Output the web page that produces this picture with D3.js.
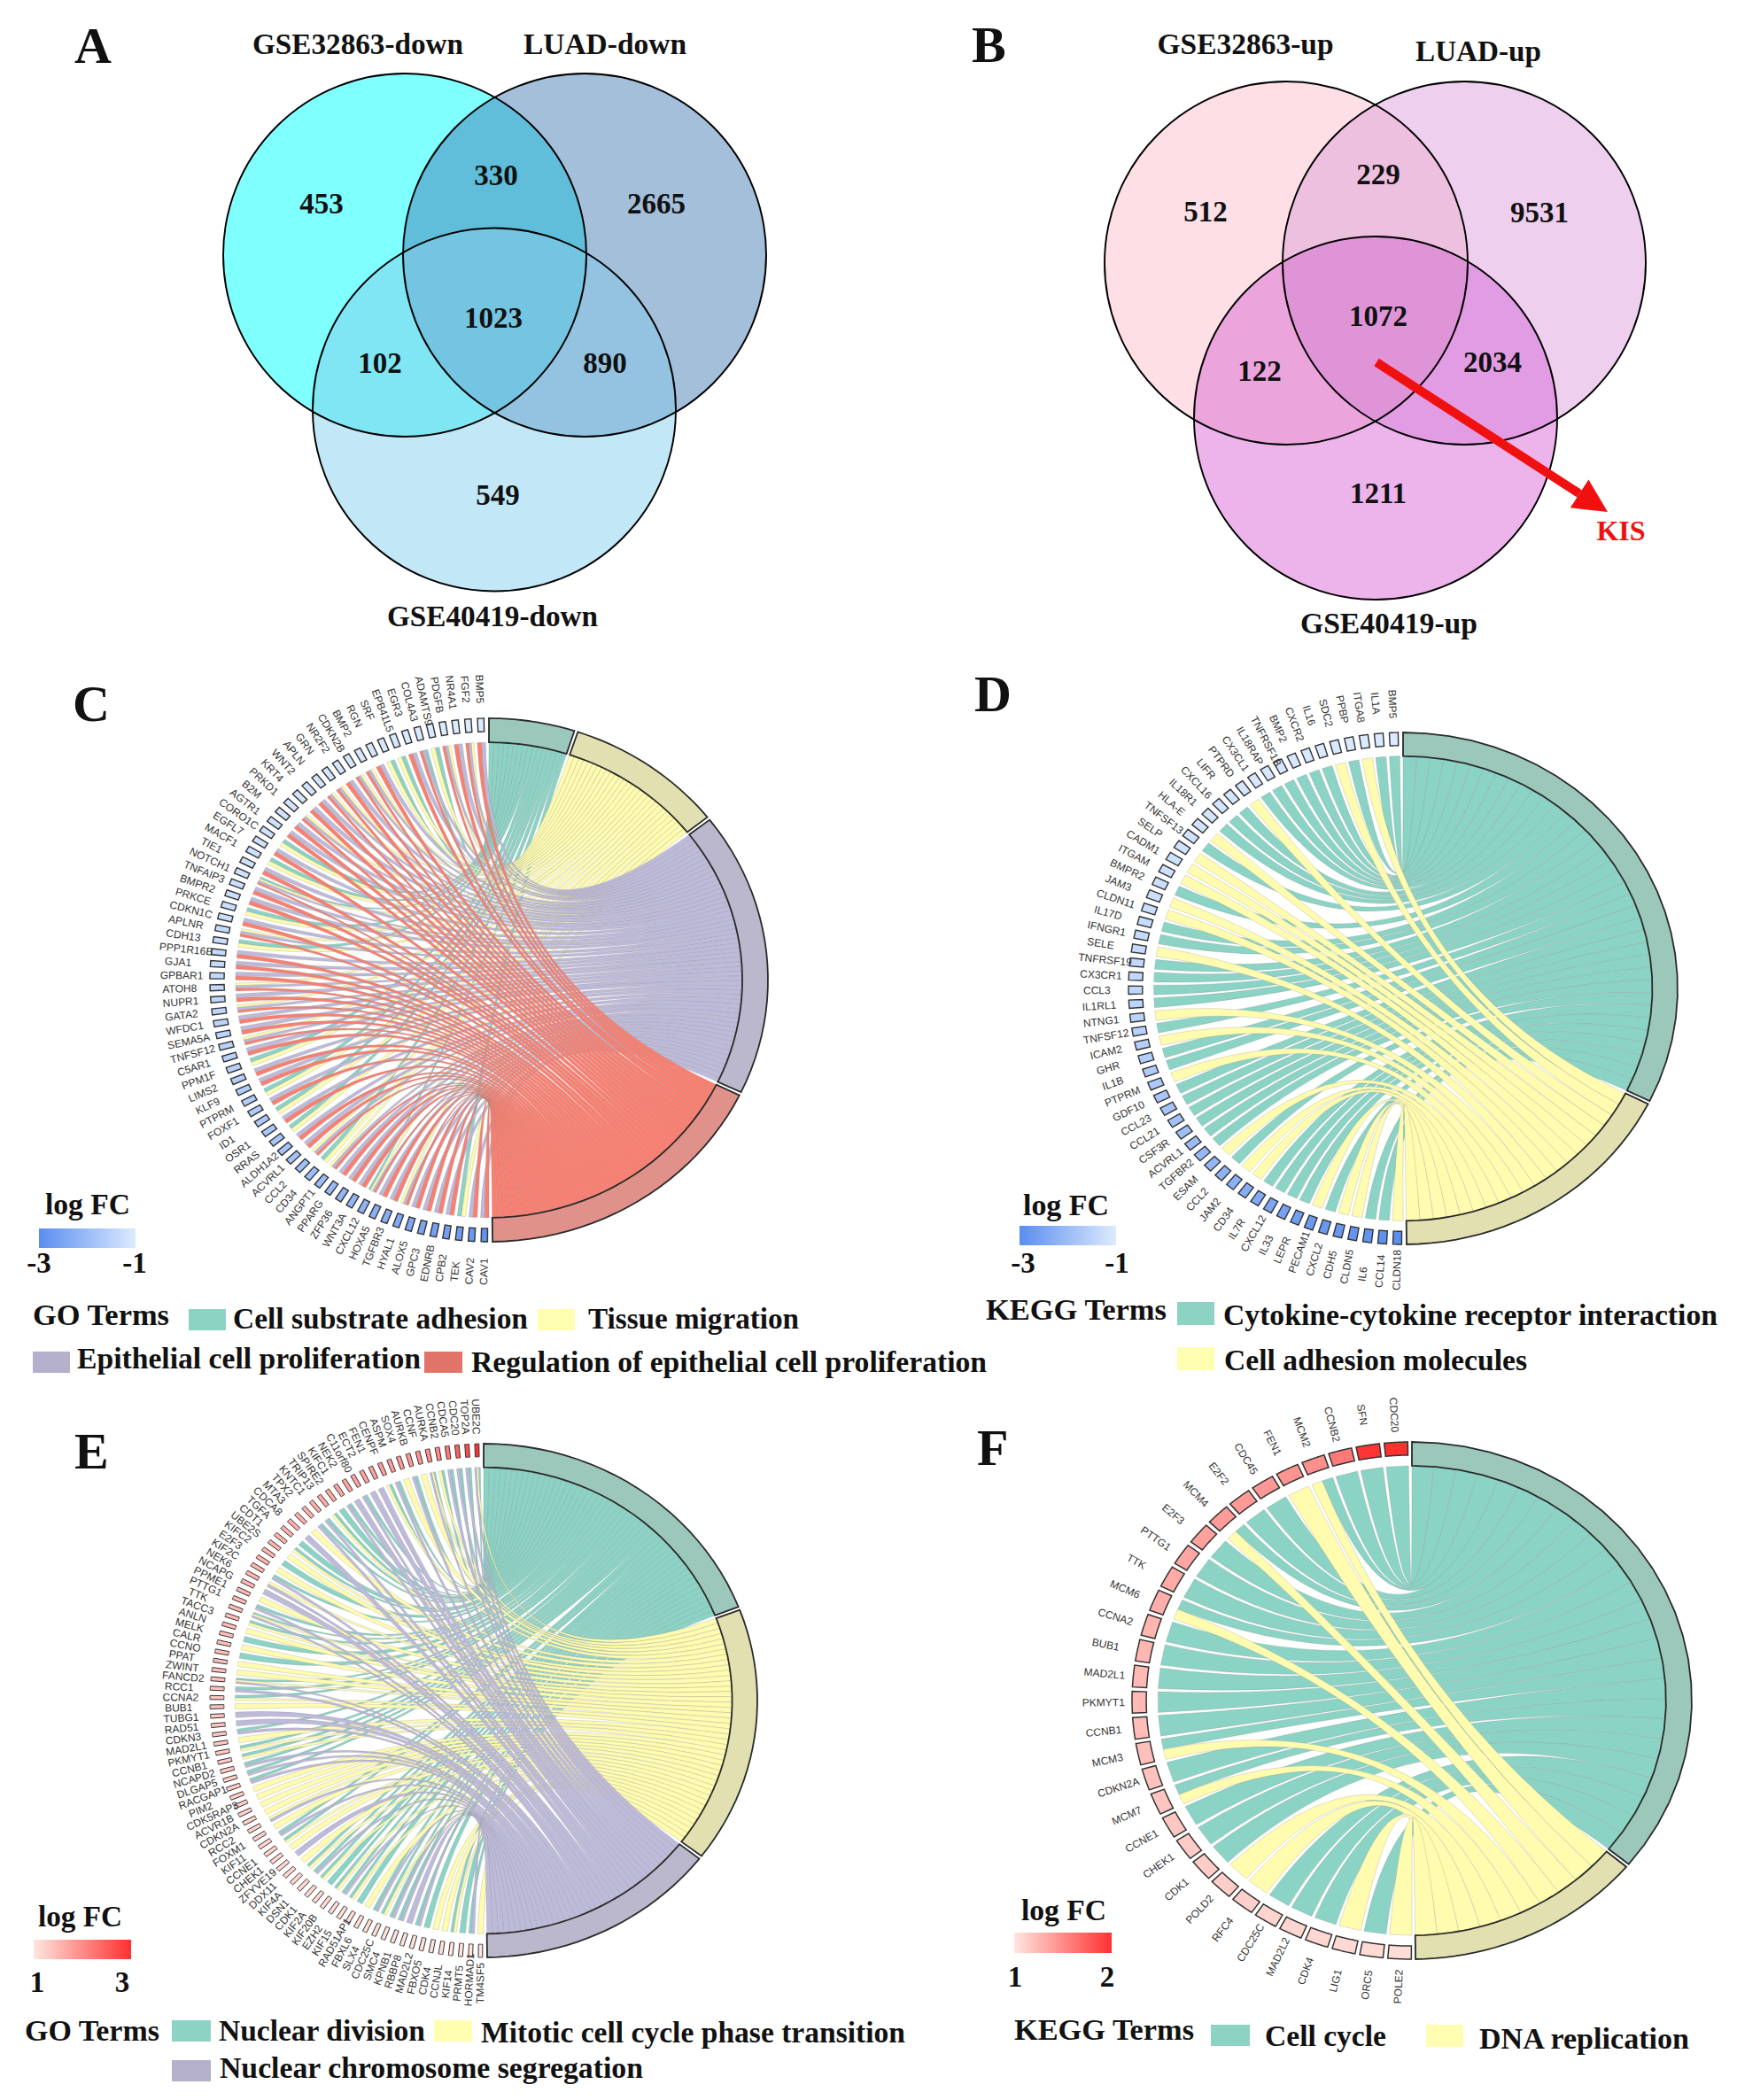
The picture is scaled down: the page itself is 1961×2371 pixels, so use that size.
<!DOCTYPE html>
<html><head><meta charset="utf-8">
<script src="https://cdn.jsdelivr.net/npm/d3@7/dist/d3.min.js"></script>
<style>html,body{margin:0;padding:0;background:#fff}svg{display:block}</style>
</head><body><svg id="fig" width="1961" height="2371" viewBox="0 0 1961 2371"></svg>
<script>
// ---------- Venn data ----------
const vennANames = ["GSE32863-down","LUAD-down","GSE40419-down"];
const vennACounts = {a:453,ab:330,b:2665,abc:1023,ac:102,bc:890,c:549};
const vennBNames = ["GSE32863-up","LUAD-up","GSE40419-up"];
const vennBCounts = {a:512,ab:229,b:9531,abc:1072,ac:122,bc:2034,c:1211};

// ---------- Panel C ----------
const cGenes = ["BMP5","FGF2","NR4A1","PDGFB","ADAMTS9","COL4A3","EGR3","EPB41L5","SRF","RGN","BMP2","CDKN2B","NR2F2","GRN","APLN","WNT2","KRT4","PRKD1","B2M","AGTR1","CORO1C","EGFL7","MACF1","TIE1","NOTCH1","TNFAIP3","BMPR2","PRKCE","CDKN1C","APLNR","CDH13","PPP1R16B","GJA1","GPBAR1","ATOH8","NUPR1","GATA2","WFDC1","SEMA5A","TNFSF12","C5AR1","PPM1F","LIMS2","KLF9","PTPRM","FOXF1","ID1","OSR1","RRAS","ALDH1A2","ACVRL1","CCL2","CD34","ANGPT1","PPARG","ZFP36","WNT3A","CXCL12","HOXA5","TGFBR3","HYAL1","ALOX5","GPC3","EDNRB","CPB2","TEK","CAV2","CAV1"];
const cLinks = ["34","234","34","234","12","134","34","12","12","34","234","234","34","234","234","34","34","234","34","34","12","34","12","34","1234","34","34","12","34","234","12","34","34","34","234","34","234","34","34","234","34","12","34","34","12","34","12","34","12","34","34","234","12","234","34","34","34","1234","34","34","234","34","34","34","34","12","34","34"];
const cLogFC = [-1.00,-1.01,-1.02,-1.03,-1.04,-1.05,-1.05,-1.06,-1.07,-1.08,-1.09,-1.10,-1.11,-1.12,-1.13,-1.14,-1.15,-1.16,-1.17,-1.18,-1.19,-1.20,-1.21,-1.22,-1.24,-1.25,-1.27,-1.28,-1.30,-1.32,-1.33,-1.35,-1.37,-1.39,-1.41,-1.43,-1.45,-1.47,-1.50,-1.52,-1.55,-1.58,-1.60,-1.63,-1.66,-1.69,-1.72,-1.75,-1.79,-1.83,-1.87,-1.91,-1.95,-2.00,-2.05,-2.10,-2.15,-2.20,-2.26,-2.32,-2.38,-2.44,-2.50,-2.56,-2.62,-2.70,-2.78,-2.90];

// ---------- Panel D ----------
const dGenes = ["BMP5","IL1A","ITGA8","PPBP","SDC2","IL16","CXCR2","BMP2","TNFRSF1B","IL18RAP","CX3CL1","PTPRD","LIFR","CXCL16","IL18R1","HLA-E","TNFSF13","SELP","CADM1","ITGAM","BMPR2","JAM3","CLDN11","IL17D","IFNGR1","SELE","TNFRSF19","CX3CR1","CCL3","IL1RL1","NTNG1","TNFSF12","ICAM2","GHR","IL1B","PTPRM","GDF10","CCL23","CCL21","CSF3R","ACVRL1","TGFBR2","ESAM","CCL2","JAM2","CD34","IL7R","CXCL12","IL33","LEPR","PECAM1","CXCL2","CDH5","CLDN5","IL6","CCL14","CLDN18"];
const dLinks = ["1","1","2","1","2","1","1","1","1","1","1","2","1","1","1","2","1","2","2","2","1","2","2","1","1","2","1","1","1","1","2","1","2","1","1","2","1","1","1","1","1","1","2","1","2","2","1","1","1","1","2","1","2","2","1","1","2"];
const dLogFC = [-1.00,-1.01,-1.02,-1.03,-1.04,-1.05,-1.06,-1.07,-1.08,-1.09,-1.10,-1.11,-1.12,-1.14,-1.15,-1.16,-1.18,-1.19,-1.21,-1.23,-1.25,-1.27,-1.29,-1.31,-1.34,-1.36,-1.39,-1.42,-1.45,-1.48,-1.52,-1.56,-1.60,-1.64,-1.68,-1.73,-1.78,-1.83,-1.88,-1.94,-2.00,-2.06,-2.12,-2.19,-2.26,-2.33,-2.40,-2.48,-2.57,-2.66,-2.72,-2.76,-2.80,-2.84,-2.88,-2.92,-2.96];

// ---------- Panel E ----------
const eGenes = ["UBE2C","TOP2A","CDC20","CDCA5","CCNB2","AURKA","CCNF","AURKB","SOX4","ASPM","CENPF","FEN1","ECT2","C11orf80","NEK2","KIFC1","SPIRE2","TRIP13","KNTC1","TPX2","MTA3","CDCA8","TGFA","CDT1","UBE2S","KIFC2","E2F3","KIF2C","NEK6","NCAPG","PPME1","PTTG1","TTK","TACC3","ANLN","MELK","CALR","CCNO","PPAT","ZWINT","FANCD2","RCC1","CCNA2","BUB1","TUBG1","RAD51","CDKN3","MAD2L1","PKMYT1","CCNB1","NCAPD2","DLGAP5","RACGAP1","PIM2","CDK5RAP3","ACVR1B","CDKN2A","RCC2","FOXM1","KIF11","CCNE1","CHEK1","ZFYVE19","DDX11","KIF4A","DSN1","CDK1","KIF2A","KIF20B","EZH2","KIF15","RAD51AP1","FBXL6","SLX4","CDC25C","SMC4","KPNB1","RBBP8","MAD2L2","FBXO5","CDK4","CCNJL","KIF14","PRMT5","HORMAD1","TM4SF5"];
const eLinks = ["123","13","13","13","12","123","2","13","2","13",
  "12","3","3","13","3","13","1","12","13","13",
  "2","3","1","12","2","1","2","13","23","3",
  "2","13","123","12","2","1","2","1","2","2",
  "123","13","12","2","3","3","13","2","12","12",
  "13","13","13","2","2","2","2","23","2","13",
  "12","2","3","2","12","13","12","1","12","13",
  "12","1","2","13","12","13","13","3","13","1",
  "2","2","12","1","13","2"];
const eLogFC = [3.00,2.72,2.48,2.18,2.02,1.95,1.90,1.86,1.83,1.80,1.78,1.76,1.74,1.72,1.70,1.69,1.67,1.66,1.64,1.63,1.62,1.60,1.59,1.58,1.57,1.55,1.54,1.53,1.52,1.51,1.50,1.49,1.48,1.47,1.46,1.45,1.44,1.43,1.42,1.41,1.40,1.39,1.38,1.37,1.36,1.35,1.34,1.33,1.32,1.31,1.30,1.29,1.28,1.27,1.26,1.25,1.24,1.23,1.22,1.21,1.20,1.19,1.19,1.18,1.17,1.16,1.15,1.15,1.14,1.13,1.12,1.11,1.11,1.10,1.09,1.08,1.08,1.07,1.06,1.05,1.05,1.04,1.03,1.03,1.02,1.01];

// ---------- Panel F ----------
const fGenes = ["CDC20","SFN","CCNB2","MCM2","FEN1","CDC45","E2F2","MCM4","E2F3","PTTG1","TTK","MCM6","CCNA2","BUB1","MAD2L1","PKMYT1","CCNB1","MCM3","CDKN2A","MCM7","CCNE1","CHEK1","CDK1","POLD2","RFC4","CDC25C","MAD2L2","CDK4","LIG1","ORC5","POLE2"];
const fLinks = ["1","1","1","12","2","1","1","12","1","1","1","12","1","1","1","1","1","12","1","12","1","1","1","2","2","1","1","1","2","1","2"];
const fLogFC = [2.00,1.98,1.60,1.48,1.45,1.43,1.42,1.41,1.38,1.35,1.33,1.30,1.27,1.26,1.25,1.24,1.23,1.21,1.20,1.18,1.17,1.15,1.14,1.13,1.12,1.10,1.09,1.08,1.07,1.06,1.05];

// ---------- Style ----------
const ribbonFill = {1:"#8BD3C5",2:"#FFFCB0",3:"#BEBADA",4:"#FA7F70"};
const bandFill = {1:"#9CC8BC",2:"#E2E0B0",3:"#BBB7CC",4:"#E0918A"};
const swatchFill = {1:"#8CD3C4",2:"#FFFDB0",3:"#B4AFCB",4:"#E07468"};
const SERIF = "'Liberation Serif','Times New Roman',serif";
const SANS = "'Liberation Sans',Arial,sans-serif";
const GAP = 0.013, R_RIB = 0.908, R_BOX = 0.949, R_LAB = 1.14;

const svg = d3.select("#fig");
const defs = svg.append("defs");
svg.append("rect").attr("width",1961).attr("height",2371).attr("fill","#fff");

function T(parent, s, x, y, size, width, anchor, color){
  const t = parent.append("text").attr("x",x).attr("y",y).text(s)
    .attr("font-family",SERIF).attr("font-weight","bold").attr("font-size",size)
    .attr("text-anchor",anchor||"start").attr("fill",color||"#111");
  if(width) t.attr("textLength",width).attr("lengthAdjust","spacingAndGlyphs");
  return t;
}

// ---------- Venn ----------
function venn(id, circles, colors, labels, counts){
  const g = svg.append("g");
  const keys = ["a","b","c"];
  keys.forEach((k,i)=>{
    defs.append("clipPath").attr("id",id+k).append("circle")
      .attr("cx",circles[i][0]).attr("cy",circles[i][1]).attr("r",205);
  });
  const circ = (p,i,f)=>p.append("circle").attr("cx",circles[i][0]).attr("cy",circles[i][1]).attr("r",205).attr("fill",f);
  keys.forEach((k,i)=>circ(g,i,colors[k]));
  circ(g.append("g").attr("clip-path",`url(#${id}a)`),1,colors.ab);
  circ(g.append("g").attr("clip-path",`url(#${id}a)`),2,colors.ac);
  circ(g.append("g").attr("clip-path",`url(#${id}b)`),2,colors.bc);
  circ(g.append("g").attr("clip-path",`url(#${id}a)`).append("g").attr("clip-path",`url(#${id}b)`),2,colors.abc);
  keys.forEach((k,i)=>circ(g,i,"none").attr("stroke","#000").attr("stroke-width",1.9));
  labels.forEach(l=>T(g,l[0],l[1],l[2],33,l[3],"middle"));
  Object.keys(counts).forEach(k=>T(g,String(counts[k]),colors.pos[k][0],colors.pos[k][1],33,null,"middle"));
}
venn("va",[[457,288],[660,288],[558,462.5]],
  {a:"#80FFFF",b:"#A3BFD9",c:"#C2E7F6",ab:"#60BEDA",ac:"#80E6F4",bc:"#94C3E2",abc:"#74C5E2",
   pos:{a:[363,241],ab:[560,209],b:[741,241],abc:[557,370],ac:[429,421],bc:[683,421],c:[562,570]}},
  [[vennANames[0],404,61,238],[vennANames[1],683,61,184],[vennANames[2],556,707,238]], vennACounts);
venn("vb",[[1452,297],[1653,297],[1553,472]],
  {a:"#FDDFE5",b:"#EFCFEE",c:"#ECB4EA",ab:"#EDC0E0",ac:"#EBA4DC",bc:"#E29CE3",abc:"#E094D8",
   pos:{a:[1361,250],ab:[1556,208],b:[1738,251],abc:[1556,368],ac:[1422,430],bc:[1685,420],c:[1556,568]}},
  [[vennBNames[0],1406,61,199],[vennBNames[1],1669,69,142],[vennBNames[2],1568,715,200]], vennBCounts);

// KIS arrow
(function(){
  const s=[1554,409], e=[1815,578], dx=e[0]-s[0], dy=e[1]-s[1], L=Math.hypot(dx,dy), ux=dx/L, uy=dy/L, nx=-uy, ny=ux;
  const b=[e[0]-ux*38,e[1]-uy*38];
  svg.append("line").attr("x1",s[0]).attr("y1",s[1]).attr("x2",b[0]).attr("y2",b[1]).attr("stroke","#F01010").attr("stroke-width",10);
  svg.append("polygon").attr("fill","#F01010").attr("points",[e,[b[0]+nx*19,b[1]+ny*19],[b[0]-nx*19,b[1]-ny*19]].map(p=>p.join(",")).join(" "));
  T(svg,"KIS",1830,610,32,null,"middle","#F01010");
})();

// panel letters
[["A",84,71],["B",1097,70],["C",82,814],["D",1100,803],["E",84,1658],["F",1103,1654]]
  .forEach(d=>T(svg,d[0],d[1],d[2],58));

// ---------- Chord ----------
function chord(cfg){
  const g = svg.append("g");
  const X = d3.scaleLinear().domain([-1,1]).range([cfg.cx-cfg.rx,cfg.cx+cfg.rx]);
  const Y = d3.scaleLinear().domain([-1,1]).range([cfg.cy-cfg.ry,cfg.cy+cfg.ry]);
  const N = cfg.genes.length;
  const step = Math.PI/N;
  const band = d3.scaleBand().domain(cfg.genes).range([GAP,Math.PI]).paddingInner(GAP/step).paddingOuter(0);
  const color = d3.scaleLinear().domain(cfg.fcDomain).range(cfg.fcRange);
  const counts = cfg.terms.map(t=>d3.sum(cfg.links,l=>l.includes(t)?1:0));
  const total = d3.sum(counts);
  const cum = d3.cumsum(counts);
  const termAngle = d3.scaleLinear().domain([0,total]).range([0,Math.PI]);
  const gp=(a,r)=>[X(-r*Math.sin(a)),Y(-r*Math.cos(a))];
  const tp=(a,r)=>[X(r*Math.sin(a)),Y(-r*Math.cos(a))];
  const line = d3.line();
  const arc=(f,a0,a1,r)=>d3.range(0,25).map(i=>f(a0+(a1-a0)*i/24,r));

  const cx0=X(0), cy0=Y(0);
  const geneSlices = cfg.genes.map((name,i)=>{
    const a0=band(name), w=band.bandwidth(), ts=cfg.links[i].split("").map(Number);
    const m={}; ts.forEach((t,j)=>{m[t]=[a0+w*j/ts.length,a0+w*(j+1)/ts.length];});
    return m;
  });
  const rib = g.append("g");
  cfg.terms.forEach((t,ti)=>{
    const start = ti?cum[ti-1]:0;
    const t0=termAngle(start), t1=termAngle(start+counts[ti])-GAP;
    const wt=(t1-t0)/counts[ti];
    let j=0;
    geneSlices.forEach(m=>{
      if(!m[t]) return;
      const [a0,a1]=m[t], s0=t0+wt*j, s1=t0+wt*(j+1); j++;
      const p=d3.path();
      const A=gp(a0,R_RIB),B=tp(s0,R_RIB),C=tp(s1,R_RIB),D=gp(a1,R_RIB);
      p.moveTo(A[0],A[1]); p.quadraticCurveTo(cx0,cy0,B[0],B[1]);
      p.lineTo(C[0],C[1]); p.quadraticCurveTo(cx0,cy0,D[0],D[1]); p.closePath();
      rib.append("path").attr("d",p.toString()).attr("fill",ribbonFill[t])
        .attr("stroke","#8a8a8a").attr("stroke-opacity",.38).attr("stroke-width",.7);
    });
    const poly=arc(tp,t0,t1,1).concat(arc(tp,t1,t0,R_RIB));
    g.append("path").attr("d",line(poly)+"Z").attr("fill",bandFill[t])
      .attr("stroke","#2a2a2a").attr("stroke-width",1.8);
  });
  cfg.genes.forEach((name,i)=>{
    const a0=band(name)+cfg.boxInset,a1=band(name)+band.bandwidth()-cfg.boxInset;
    const poly=arc(gp,a0,a1,1).concat(arc(gp,a1,a0,R_BOX));
    g.append("path").attr("d",line(poly)+"Z").attr("fill",color(cfg.logFC[i]))
      .attr("stroke","#333").attr("stroke-width",cfg.boxStroke);
    const am=(a0+a1)/2, p=gp(am,R_LAB);
    const rot=Math.atan2(Math.cos(am),Math.sin(am))*180/Math.PI;
    const t=g.append("text").attr("transform",`translate(${p[0]},${p[1]}) rotate(${rot})`)
      .attr("font-family",SANS).attr("font-size",12).attr("fill","#333").attr("dy","0.35em").text(name);
    t.attr("x",-0.25*t.node().getComputedTextLength());
  });
  const lg=cfg.legend, gid="grad"+cfg.id;
  const gr=defs.append("linearGradient").attr("id",gid);
  gr.append("stop").attr("offset","0%").attr("stop-color",cfg.fcRange[0]);
  gr.append("stop").attr("offset","100%").attr("stop-color",cfg.fcRange[1]);
  T(g,"log FC",lg.tx,lg.ty,33,lg.tw);
  g.append("rect").attr("x",lg.x0).attr("y",lg.y0).attr("width",lg.x1-lg.x0).attr("height",lg.y1-lg.y0).attr("fill",`url(#${gid})`);
  T(g,cfg.fcLabels[0],lg.l0,lg.ly,33,null,"middle");
  T(g,cfg.fcLabels[1],lg.l1,lg.ly,33,null,"middle");
  cfg.termLegend.forEach(d=>{
    if(d.sw) g.append("rect").attr("x",d.sw[0]).attr("y",d.sw[1]).attr("width",d.sw[2]).attr("height",d.sw[3]).attr("fill",swatchFill[d.t]);
    T(g,d.s,d.x,d.y,33,d.w);
  });
}

const blues=["#5B8DEF","#DCEBFF"], reds=["#FFE6E0","#FF3030"];
chord({id:"C",cx:552,cy:1106.5,rx:315,ry:295.5,genes:cGenes,links:cLinks,logFC:cLogFC,terms:[1,2,3,4],boxInset:.005,boxStroke:1.4,
  fcDomain:[-3,-1],fcRange:blues,fcLabels:["-3","-1"],
  legend:{tx:51,ty:1371,tw:96,x0:44,x1:153,y0:1387,y1:1409,l0:44,l1:152,ly:1437},
  termLegend:[{s:"GO Terms",x:37,y:1496,w:154},
    {t:1,sw:[213,1478,42,24],s:"Cell substrate adhesion",x:263,y:1500,w:333},
    {t:2,sw:[607,1478,42,24],s:"Tissue migration",x:664,y:1500,w:238},
    {t:3,sw:[37,1526,42,24],s:"Epithelial cell proliferation",x:87,y:1545,w:388},
    {t:4,sw:[479,1526,43,24],s:"Regulation of epithelial cell proliferation",x:532,y:1549,w:582}]});
chord({id:"D",cx:1584,cy:1116,rx:310,ry:289,genes:dGenes,links:dLinks,logFC:dLogFC,terms:[1,2],boxInset:.005,boxStroke:1.4,
  fcDomain:[-3,-1],fcRange:blues,fcLabels:["-3","-1"],
  legend:{tx:1155,ty:1372,tw:97,x0:1151,x1:1260,y0:1384,y1:1406,l0:1155,l1:1261,ly:1437},
  termLegend:[{s:"KEGG Terms",x:1113,y:1490,w:204},
    {t:1,sw:[1329,1470,42,26],s:"Cytokine-cytokine receptor interaction",x:1381,y:1496,w:558},
    {t:2,sw:[1329,1521,42,26],s:"Cell adhesion molecules",x:1382,y:1547,w:342}]});
chord({id:"E",cx:546,cy:1920,rx:309,ry:290,genes:eGenes,links:eLinks,logFC:eLogFC,terms:[1,2,3],boxInset:.004,boxStroke:1,
  fcDomain:[1,3],fcRange:reds,fcLabels:["1","3"],
  legend:{tx:43,ty:2175,tw:95,x0:38,x1:148,y0:2190,y1:2212,l0:42,l1:138,ly:2249},
  termLegend:[{s:"GO Terms",x:28,y:2304,w:152},
    {t:1,sw:[194,2281,44,24],s:"Nuclear division",x:247,y:2304,w:233},
    {t:2,sw:[490,2281,43,24],s:"Mitotic cell cycle phase transition",x:543,y:2306,w:479},
    {t:3,sw:[194,2326,44,24],s:"Nuclear chromosome segregation",x:248,y:2346,w:478}]});
chord({id:"F",cx:1594,cy:1920,rx:316,ry:292,genes:fGenes,links:fLinks,logFC:fLogFC,terms:[1,2],boxInset:.002,boxStroke:1.5,
  fcDomain:[1,2],fcRange:reds,fcLabels:["1","2"],
  legend:{tx:1153,ty:2168,tw:96,x0:1145,x1:1255,y0:2182,y1:2205,l0:1146,l1:1250,ly:2243},
  termLegend:[{s:"KEGG Terms",x:1145,y:2303,w:203},
    {t:1,sw:[1367,2286,44,24],s:"Cell cycle",x:1428,y:2310,w:137},
    {t:2,sw:[1610,2286,42,25],s:"DNA replication",x:1670,y:2313,w:237}]});
</script></body></html>
